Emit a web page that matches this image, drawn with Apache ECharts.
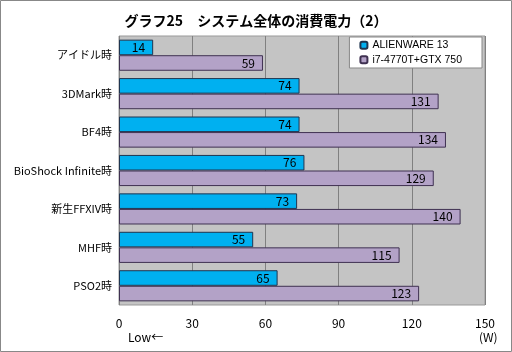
<!DOCTYPE html>
<html><head><meta charset="utf-8">
<script src="https://cdn.jsdelivr.net/npm/echarts@6/dist/echarts.min.js"></script>
<style>html,body{margin:0;padding:0;background:#fff}#c{width:512px;height:352px}</style>
</head><body><div id="c"></div>
<script>
const categories = ['アイドル時','3DMark時','BF4時','BioShock Infinite時','新生FFXIV時','MHF時','PSO2時'];
const seriesNames = ['ALIENWARE 13','i7-4770T+GTX 750'];
const alienware = [14,74,74,76,73,55,65];
const desktop = [59,131,134,129,140,115,123];
const xTicks = [0,30,60,90,120,150];
const font = '"Noto Sans CJK JP","Noto Sans",sans-serif';
const latin = '"Liberation Sans","Noto Sans CJK JP",sans-serif';
const chart = echarts.init(document.getElementById('c'), null, {renderer:'canvas'});
chart.setOption({
  animation:false,
  backgroundColor:'#fff',
  title:{text:'グラフ25　システム全体の消費電力（2）',left:'center',top:9,
    textStyle:{fontFamily:font,fontSize:14,fontWeight:'bold',color:'#000'}},
  legend:{data:seriesNames,orient:'vertical',right:30,top:37,itemWidth:7,itemHeight:7,itemGap:4,
    backgroundColor:'#fff',borderColor:'#888',borderWidth:1,padding:[3,20,3,10],
    textStyle:{fontFamily:latin,fontSize:10.5,color:'#000'}},
  grid:{left:119,right:27,top:36,bottom:47,show:true,backgroundColor:'#c4c4c4',borderColor:'#999',borderWidth:1},
  xAxis:{type:'value',min:xTicks[0],max:xTicks[xTicks.length-1],interval:30,
    axisLine:{show:false},axisTick:{show:false},
    splitLine:{lineStyle:{color:'#808080',width:1}},
    axisLabel:{fontFamily:font,fontSize:12,color:'#000',margin:12}},
  yAxis:{type:'category',data:categories,inverse:true,
    axisLine:{show:false},axisTick:{show:false},
    axisLabel:{fontFamily:font,fontSize:11,color:'#000',margin:7}},
  series:[
    {name:seriesNames[0],type:'bar',data:alienware,barGap:'0%',barCategoryGap:'19%',
     itemStyle:{color:'#00b0f0',borderColor:'#1f3550',borderWidth:1},
     label:{show:true,position:'insideRight',color:'#000',fontFamily:font,fontSize:12,distance:8}},
    {name:seriesNames[1],type:'bar',data:desktop,
     itemStyle:{color:'#b3a2c7',borderColor:'#3f3151',borderWidth:1},
     label:{show:true,position:'insideRight',color:'#000',fontFamily:font,fontSize:12,distance:8}}
  ],
  graphic:[
    {type:'rect',shape:{x:0.5,y:0.5,width:511,height:351},style:{fill:null,stroke:'#888',lineWidth:1},silent:true},
    {type:'text',left:128,top:331,style:{text:'Low←',fontFamily:font,fontSize:12,fill:'#000'}},
    {type:'text',left:479,top:331,style:{text:'(W)',fontFamily:font,fontSize:12,fill:'#000'}}
  ]
});
</script></body></html>
